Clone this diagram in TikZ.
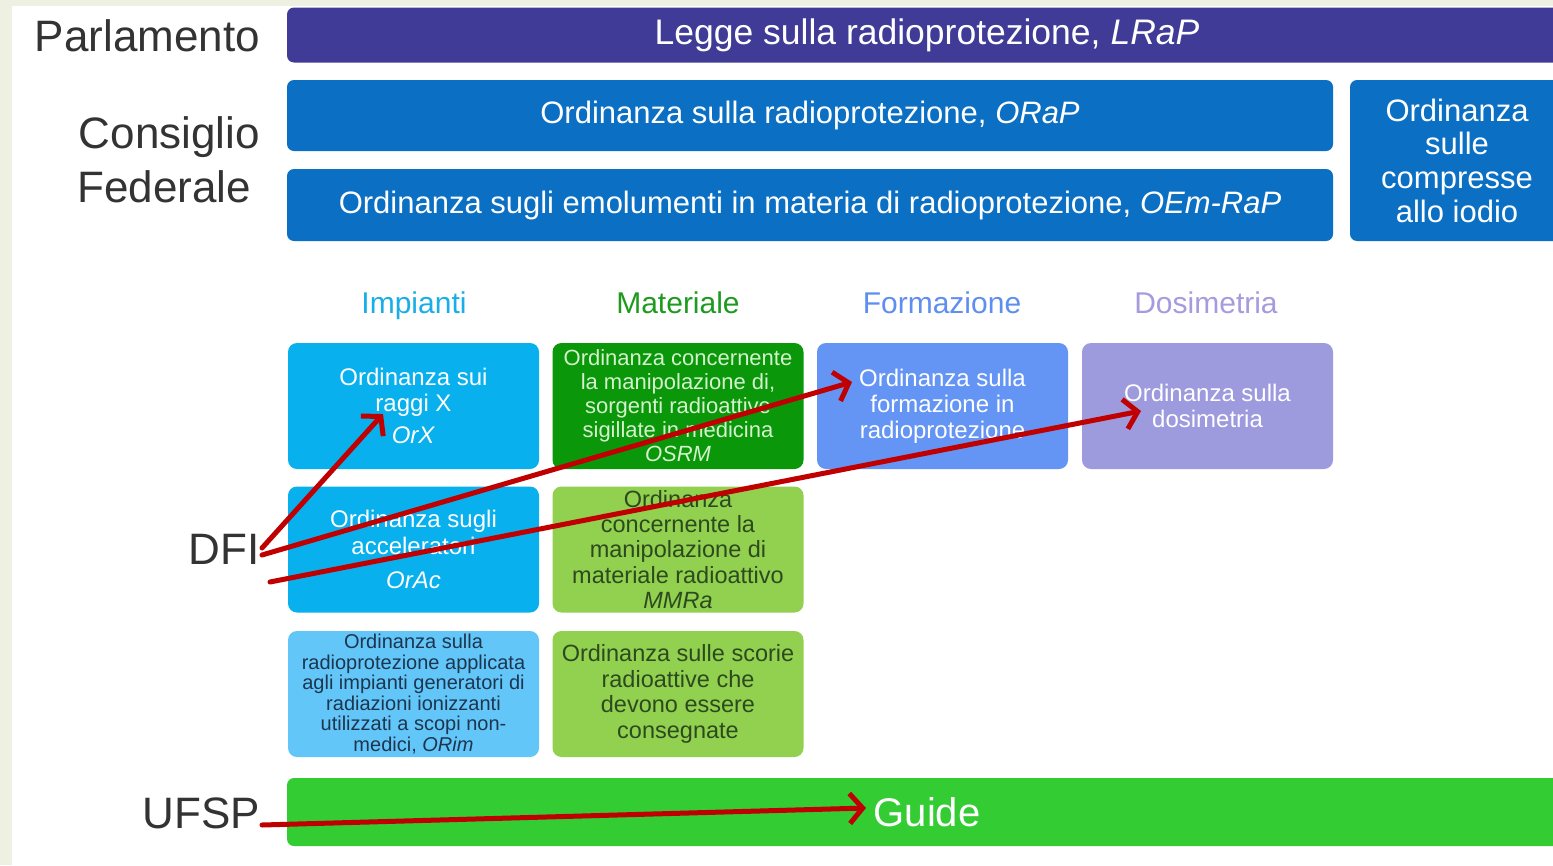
\documentclass[tikz,border=0pt]{standalone}
\usepackage{fontspec}
\setmainfont{Liberation Sans}
\usetikzlibrary{arrows.meta}
\definecolor{bgstrip}{HTML}{EEF1E2}
\definecolor{indigo}{HTML}{3F3B97}
\definecolor{fedblue}{HTML}{0B6FC4}
\definecolor{impcol}{HTML}{08B0EE}
\definecolor{implight}{HTML}{62C7F8}
\definecolor{impdark}{HTML}{1E3550}
\definecolor{matdark}{HTML}{0A970A}
\definecolor{matlight}{HTML}{92D050}
\definecolor{mattext}{HTML}{2D4A1E}
\definecolor{osrmtext}{HTML}{D4F2CC}
\definecolor{formcol}{HTML}{6495F5}
\definecolor{dosicol}{HTML}{9D9ADD}
\definecolor{guidecol}{HTML}{33CC33}
\definecolor{arrred}{HTML}{C00000}
\definecolor{labgray}{HTML}{333333}
\definecolor{hImp}{HTML}{1AAEE8}
\definecolor{hMat}{HTML}{1E9A1E}
\definecolor{hForm}{HTML}{5E8FF0}
\definecolor{hDosi}{HTML}{A59BDF}
\newcommand{\fsz}[2]{\fontsize{#1}{#2}\selectfont}
\tikzset{
  lab/.style={anchor=base east, inner sep=0pt, text=labgray, font=\fsz{44}{50}},
  bar/.style={rectangle, rounded corners=7pt, inner sep=0pt, text=white, align=center},
  cell/.style={rectangle, rounded corners=9pt, inner sep=0pt, minimum width=251pt, minimum height=126pt, align=center},
  head/.style={anchor=base, inner sep=0pt, font=\fsz{30}{34}},
  redarr/.style={draw=arrred, line width=5pt, line cap=round, -{Straight Barb[length=13pt,width=30pt,line width=5pt]}}
}
\begin{document}
\begin{tikzpicture}[x=1pt,y=-1pt]
\clip (0,0) rectangle (1553,865);
\useasboundingbox (0,0) rectangle (1553,865);
\fill[bgstrip] (0,0) rectangle (1553,865);
\fill[white] (12,6) rectangle (1553,865);

% left labels
\node[lab] (parl) at (260,51) {Parlamento};
\node[lab] (cons) at (260,148) {Consiglio};
\node[lab, anchor=base west] (fed) at (77,202) {Federale};
\node[lab] (dfi) at (260,564) {DFI};
\node[lab] (ufsp) at (260,828) {UFSP};

% top bars
\node[bar, fill=indigo, minimum width=1280pt, minimum height=55pt, font=\fsz{35.5}{40}] (lrap) at (927,35) {Legge sulla radioprotezione, \textit{LRaP}};
\node[bar, fill=fedblue, minimum width=1046pt, minimum height=71pt, font=\fsz{31}{36}] (orap) at (810,115.5) {Ordinanza sulla radioprotezione, \textit{ORaP}};
\node[bar, fill=fedblue, minimum width=1046pt, minimum height=72pt, font=\fsz{31}{36}] (oem) at (810,205) {Ordinanza sugli emolumenti in materia di radioprotezione, \textit{OEm-RaP}};
\node[bar, fill=fedblue, minimum width=214pt, minimum height=161pt, font=\fsz{31}{33.7}] (iodio) at (1457,160.5) {Ordinanza\\sulle\\compresse\\allo iodio};

% column headers
\node[head, text=hImp] (hi) at (414,313) {Impianti};
\node[head, text=hMat] (hm) at (678,313) {Materiale};
\node[head, text=hForm] (hf) at (942,313) {Formazione};
\node[head, text=hDosi] (hd) at (1206,313) {Dosimetria};

% row 1
\node[cell, fill=impcol, text=white, font=\fsz{24}{26}] (orx) at (413.5,406) {Ordinanza sui\\raggi X\\[6pt]\textit{OrX}};
\node[cell, fill=matdark, text=osrmtext, font=\fsz{22}{24}] (osrm) at (678,406) {Ordinanza concernente\\la manipolazione di,\\sorgenti radioattive\\sigillate in medicina\\\textit{OSRM}};
\node[cell, fill=formcol, text=white, font=\fsz{24}{26}] (form) at (942.5,406) {Ordinanza sulla\\formazione in\\radioprotezione};
\node[cell, fill=dosicol, text=white, font=\fsz{24}{26}] (dosi) at (1207.5,406) {Ordinanza sulla\\dosimetria};

% row 2
\node[cell, fill=impcol, text=white, font=\fsz{24}{27}] (orac) at (413.5,549.5) {Ordinanza sugli\\acceleratori\\[7pt]\textit{OrAc}};
\node[cell, fill=matlight, text=mattext, font=\fsz{23.5}{25.2}] (mmra) at (678,549.5) {Ordinanza\\concernente la\\manipolazione di\\materiale radioattivo\\\textit{MMRa}};

% row 3
\node[cell, fill=implight, text=impdark, font=\fsz{20}{20.6}] (orim) at (413.5,694) {Ordinanza sulla\\radioprotezione applicata\\agli impianti generatori di\\radiazioni ionizzanti\\utilizzati a scopi non-\\medici, \textit{ORim}};
\node[cell, fill=matlight, text=mattext, font=\fsz{23.5}{25.5}] (scorie) at (678,694) {Ordinanza sulle scorie\\radioattive che\\devono essere\\consegnate};

% guide bar
\node[bar, fill=guidecol, minimum width=1280pt, minimum height=68pt, font=\fsz{40}{44}] (guide) at (927,812) {Guide};

% arrow anchors
\coordinate (s1) at (262,548);
\coordinate (s2) at (262,555);
\coordinate (s3) at (270,582);
\coordinate (s4) at (262,825);
\coordinate (t1) at (383,414);
\coordinate (t2) at (852,382);
\coordinate (t3) at (1141,411);
\coordinate (t4) at (866,808);

\draw[redarr] (s1) -- (t1);
\draw[redarr] (s2) -- (t2);
\draw[redarr] (s3) -- (t3);
\draw[redarr] (s4) -- (t4);
\end{tikzpicture}
\end{document}
